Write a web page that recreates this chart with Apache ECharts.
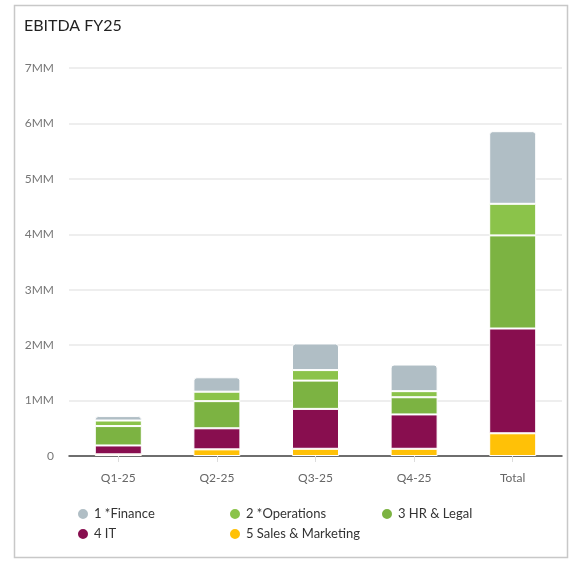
<!DOCTYPE html>
<html>
<head>
<meta charset="utf-8">
<script src="https://cdn.jsdelivr.net/npm/echarts@6/dist/echarts.min.js"></script>
<style>
    html, body { margin: 0; padding: 0; background: #fff; }
    #chart { width: 580px; height: 562px; }
</style>
</head>
<body>
<div id="chart"></div>
<script>
// 数据（单位：百万）
const categories = ['Q1-25', 'Q2-25', 'Q3-25', 'Q4-25', 'Total'];
const seriesNames = ['1 *Finance', '2 *Operations', '3 HR & Legal', '4 IT', '5 Sales & Marketing'];
const finance = [0.08, 0.26, 0.48, 0.48, 1.31];
const operations = [0.10, 0.17, 0.19, 0.11, 0.57];
const hrLegal = [0.35, 0.49, 0.51, 0.31, 1.68];
const it = [0.16, 0.38, 0.72, 0.62, 1.89];
const sales = [0.03, 0.12, 0.13, 0.13, 0.41];
const yTicks = [0, 1, 2, 3, 4, 5, 6, 7];

(function () {
    let myChart = echarts.init(document.getElementById('chart'));
    const colors = ['#b0bec5', '#8bc34a', '#7cb342', '#880e4f', '#ffc107'];

    // 堆叠顺序：底部是 Sales，顶部是 Finance
    const stackOrder = [
        { name: seriesNames[4], data: sales, color: colors[4] },
        { name: seriesNames[3], data: it, color: colors[3] },
        { name: seriesNames[2], data: hrLegal, color: colors[2] },
        { name: seriesNames[1], data: operations, color: colors[1] },
        { name: seriesNames[0], data: finance, color: colors[0] }
    ];

    let option = {
        textStyle: { fontFamily: 'Lato' },
        title: {
            text: 'EBITDA FY25',
            left: 19,
            top: 13,
            textStyle: {
                color: '#222',
                fontSize: 16,
                fontWeight: 'normal',
                fontFamily: 'Lato'
            }
        },
        graphic: [
            {
                type: 'rect',
                shape: { x: 14.5, y: 5.5, width: 553, height: 552 },
                style: { fill: 'none', stroke: '#c8c8c8', lineWidth: 1.5 },
                silent: true,
                z: -1
            }
        ],
        legend: {
            data: seriesNames,
            left: 76,
            top: 507,
            width: 460,
            orient: 'horizontal',
            icon: 'circle',
            itemWidth: 12,
            itemHeight: 12,
            itemGap: 6,
            padding: 0,
            textStyle: {
                color: '#333',
                fontSize: 13,
                width: 128,
                lineHeight: 13
            }
        },
        grid: {
            left: 69,
            right: 18,
            top: 68,
            bottom: 106,
            containLabel: false
        },
        xAxis: {
            type: 'category',
            data: categories,
            axisTick: {
                show: true,
                alignWithLabel: true,
                length: 6,
                lineStyle: { color: '#ddd' }
            },
            axisLine: {
                lineStyle: { color: '#444', width: 1.5 }
            },
            axisLabel: {
                color: '#666',
                fontSize: 12,
                margin: 16
            }
        },
        yAxis: {
            type: 'value',
            min: yTicks[0],
            max: yTicks[yTicks.length - 1],
            interval: 1,
            axisLabel: {
                color: '#777',
                fontSize: 12,
                margin: 15,
                formatter: function (v) {
                    return v === 0 ? '0' : v + 'MM';
                }
            },
            axisLine: { show: false },
            axisTick: { show: false },
            splitLine: {
                lineStyle: { color: '#e8e8e8', width: 1.5 }
            }
        },
        series: stackOrder.map(function (s, i) {
            return {
                name: s.name,
                type: 'bar',
                stack: 'total',
                barWidth: 47,
                data: s.data,
                itemStyle: {
                    color: s.color,
                    borderColor: '#fff',
                    borderWidth: 1,
                    borderRadius: i === stackOrder.length - 1 ? [3, 3, 0, 0] : 0
                }
            };
        })
    };
    myChart.setOption(option);

    window.addEventListener('resize', function () {
        myChart.resize();
    });
})();
</script>
</body>
</html>
